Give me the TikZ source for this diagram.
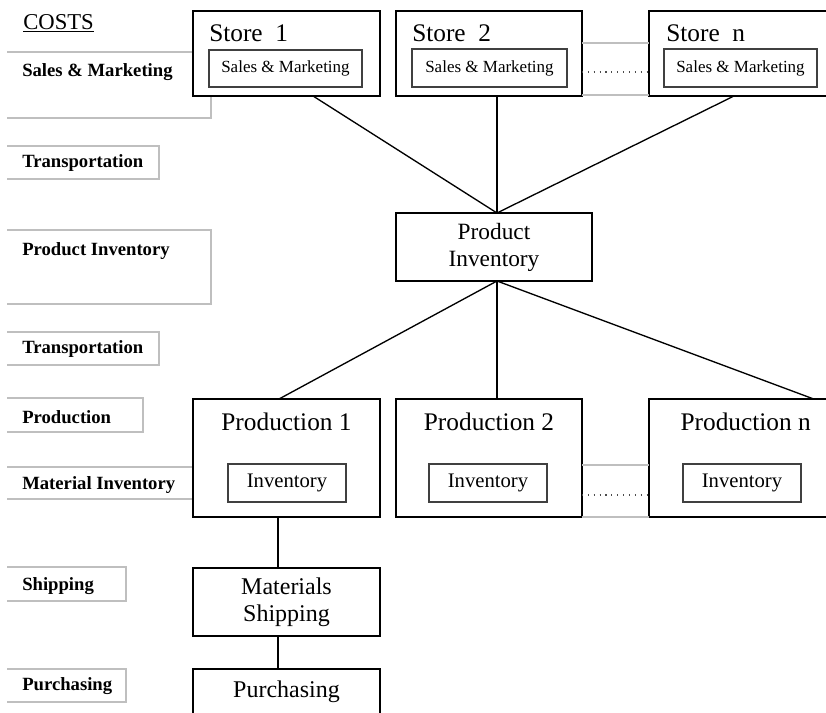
\documentclass[tikz,border=0pt]{standalone}
\usepackage{fontspec}
\setmainfont{Liberation Serif}
\usetikzlibrary{calc}
\begin{document}
\begin{tikzpicture}[x=0.75pt,y=-0.75pt,
  band/.style={draw=black!25,line width=0.8pt},
  unit/.style={draw=black,fill=white,line width=1.1pt,rectangle,inner sep=0pt,outer sep=0pt,anchor=north west},
  subunit/.style={draw=black!75,fill=white,line width=1.4pt,rectangle,inner sep=0pt,outer sep=0pt,anchor=north west},
  wh/.style 2 args={minimum width=#1*0.75pt,minimum height=#2*0.75pt},
  link/.style={draw=black,line width=1pt},
  dots/.style={draw=black!70,line width=0.8pt,dash pattern=on 0.8pt off 3.6pt},
  lab/.style={font=\fontsize{14}{16}\selectfont\bfseries,anchor=west,inner sep=0pt},
  storetitle/.style={font=\fontsize{19}{22}\selectfont,anchor=west,inner sep=0pt},
  prodtitle/.style={font=\fontsize{19}{22}\selectfont,inner sep=0pt},
  smtext/.style={font=\fontsize{12.75}{15}\selectfont},
  invtext/.style={font=\fontsize{15.5}{18}\selectfont},
  bigtext/.style={font=\fontsize{17.5}{20.25}\selectfont,align=center},
]
\useasboundingbox (0,0) rectangle (826,713);
\clip (0,0) rectangle (826,713);

% cost bands on the left
\draw[band] (7,52) -- (211,52) -- (211,118) -- (7,118);
\draw[band] (7,146) -- (159,146) -- (159,179) -- (7,179);
\draw[band] (7,230) -- (211,230) -- (211,304) -- (7,304);
\draw[band] (7,332) -- (159,332) -- (159,365) -- (7,365);
\draw[band] (7,398) -- (143,398) -- (143,432) -- (7,432);
\draw[band] (7,467) -- (250,467);
\draw[band] (7,499) -- (250,499);
\draw[band] (7,567) -- (126,567) -- (126,601) -- (7,601);
\draw[band] (7,669) -- (126,669) -- (126,702) -- (7,702);

\node[anchor=west,inner sep=0pt,font=\fontsize{17}{20}\selectfont] (costs) at (23,23) {\underline{COSTS}};
\node[lab] (l1) at (22,72) {Sales \& Marketing};
\node[lab] (l2) at (22,163) {Transportation};
\node[lab] (l3) at (22,251) {Product Inventory};
\node[lab] (l4) at (22,349) {Transportation};
\node[lab] (l5) at (22,417) {Production};
\node[lab] (l6) at (22,485) {Material Inventory};
\node[lab] (l7) at (22,586) {Shipping};
\node[lab] (l8) at (22,686) {Purchasing};

% stores
\node[unit,wh={187}{85}] (s1) at (193,11) {};
\node[unit,wh={186}{85}] (s2) at (396,11) {};
\node[unit,wh={180}{85}] (sn) at (649,11) {};
\draw[band] (s2.east |- 0,43) -- (sn.west |- 0,43);
\draw[band] (s2.east |- 0,95) -- (sn.west |- 0,95);
\node[storetitle] (s1t) at (209,33) {Store\ \ 1};
\node[storetitle] (s2t) at (412,33) {Store\ \ 2};
\node[storetitle] (snt) at (666,33) {Store\ \ n};
\node[subunit,wh={153}{37},smtext] (s1in) at (209,50) {Sales \& Marketing};
\node[subunit,wh={155}{38},smtext] (s2in) at (412,49) {Sales \& Marketing};
\node[subunit,wh={153}{38},smtext] (snin) at (664,49) {Sales \& Marketing};
\draw[dots] (s2.east |- 0,72) -- (sn.west |- 0,72);

% product inventory hub
\node[unit,wh={196}{68},bigtext] (pi) at (396,213) {Product\\Inventory};
\coordinate (hubtop) at ([xshift=2.25pt]pi.north);
\coordinate (hubbot) at ([xshift=2.25pt]pi.south);

% production sites
\node[unit,wh={187}{118}] (p1) at (193,399) {};
\node[unit,wh={186}{118}] (p2) at (396,399) {};
\node[unit,wh={180}{118}] (pn) at (649,399) {};
\draw[band] (p2.east |- 0,465) -- (pn.west |- 0,465);
\draw[band] (p2.east |- 0,517) -- (pn.west |- 0,517);
\node[prodtitle] (p1t) at ([yshift=-17.25pt]p1.north) {Production 1};
\node[prodtitle] (p2t) at ([yshift=-17.25pt]p2.north) {Production 2};
\node[prodtitle] (pnt) at ([yshift=-17.25pt,xshift=5pt]pn.north) {Production n};
\node[subunit,wh={118}{38},invtext] (p1in) at (228,464) {Inventory};
\node[subunit,wh={118}{38},invtext] (p2in) at (429,464) {Inventory};
\node[subunit,wh={118}{38},invtext] (pnin) at (683,464) {Inventory};
\draw[dots] (p2.east |- 0,495) -- (pn.west |- 0,495);

% supply chain below production 1
\node[unit,wh={187}{68},bigtext,font=\fontsize{18}{20.25}\selectfont] (ms) at (193,568) {Materials\\Shipping};
\node[unit,wh={187}{46},font=\fontsize{18}{20}\selectfont] (pu) at (193,669) {Purchasing};

% connectors
\draw[link] ([xshift=19.9pt]s1.south) -- (hubtop);
\draw[link] (hubtop |- s2.south) -- (hubtop);
\draw[link] ([xshift=-3.75pt]sn.south) -- (hubtop);
\draw[link] (hubbot) -- ([xshift=-5.6pt]p1.north);
\draw[link] (hubbot) -- (hubbot |- p2.north);
\draw[link] (hubbot) -- ([xshift=56pt]pn.north);
\coordinate (feed) at ([xshift=-6.4pt]p1.south);
\draw[link] (feed) -- (feed |- ms.north);
\draw[link] (feed |- ms.south) -- (feed |- pu.north);
\end{tikzpicture}
\end{document}
